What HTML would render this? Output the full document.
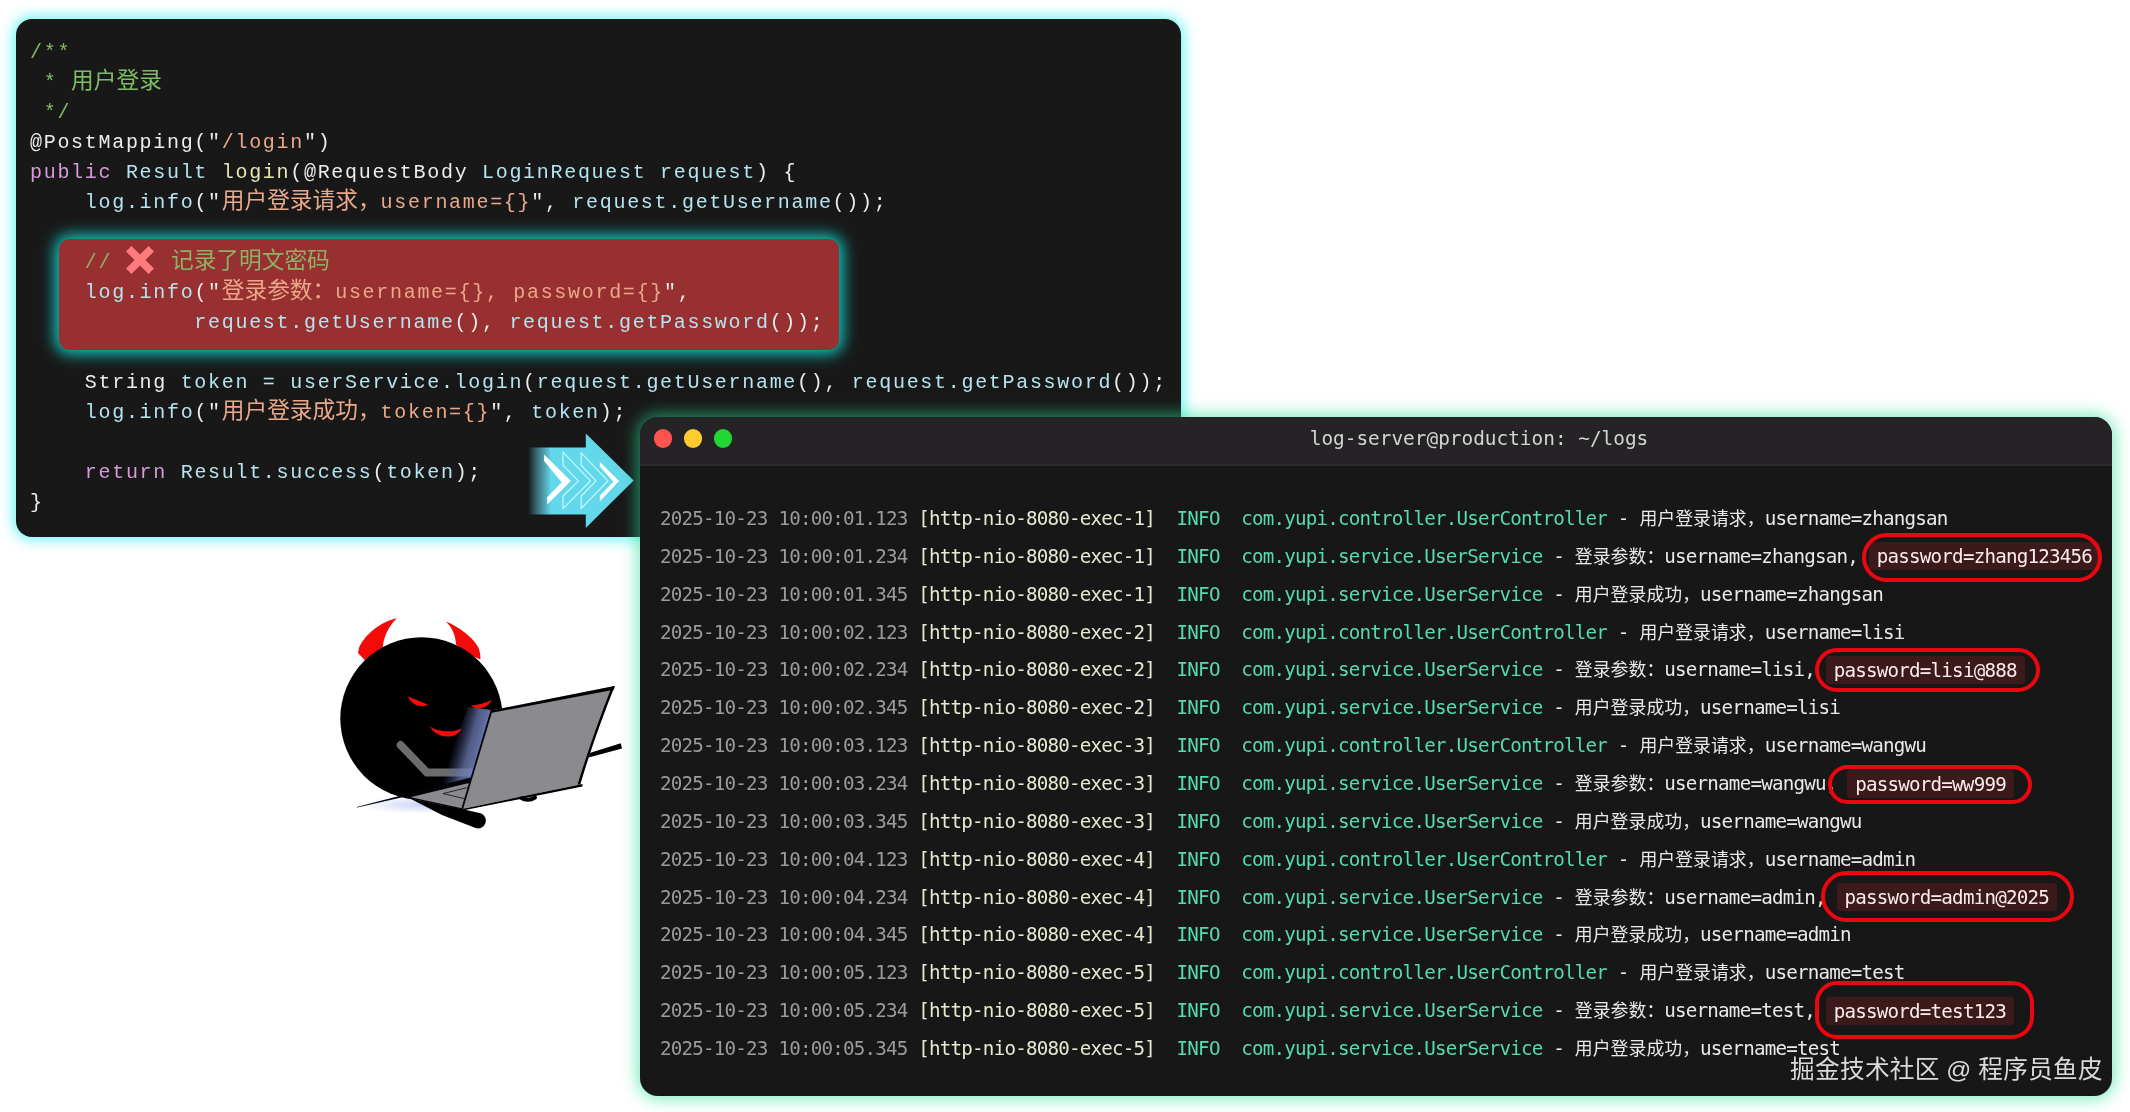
<!DOCTYPE html>
<html lang="zh-CN">
<head>
<meta charset="utf-8">
<title>明文密码日志</title>
<style>
html,body{margin:0;padding:0;background:#fff;}
body{width:2130px;height:1112px;position:relative;overflow:hidden;}
/* ---------- code panel ---------- */
#code{position:absolute;left:16px;top:19px;width:1165px;height:518px;background:#181818;border-radius:16px;
  box-shadow:0 0 13px 3px rgba(36,240,236,.66);}
#code .l{position:relative;height:30px;line-height:30px;white-space:pre;
  font-family:"Liberation Mono","Noto Sans CJK SC",monospace;font-size:20px;letter-spacing:1.695px;}
#codein{position:absolute;left:14.2px;top:19.4px;will-change:transform;}
#code .z{font-family:"Liberation Mono","Noto Sans CJK SC",monospace;font-size:22.7px;letter-spacing:0;line-height:0;}
.g{color:#7fbc64;}
.gr{color:#8fb065;}
.w{color:#ececec;}
.s{color:#eaa88a;}
.k{color:#d89ad8;}
.c{color:#b4e4ee;}
.f{color:#e6e6b4;}
#red{position:absolute;left:43px;top:220px;width:780px;height:111px;background:#982f30;border-radius:11px;
  box-shadow:0 0 15px 3.5px rgba(16,215,205,.95);}
.xm{display:inline-block;vertical-align:middle;margin:-6px 3.4px 0 0;}
/* ---------- terminal ---------- */
#term{position:absolute;left:639.5px;top:417px;width:1472px;height:679px;background:#171717;border-radius:18px;
  box-shadow:0 0 16px 3px rgba(40,225,150,.6);}
#bar{position:absolute;left:0;top:0;right:0;height:49px;background:#252326;border-radius:18px 18px 0 0;border-bottom:2px solid #2b2b2b;box-sizing:border-box;}
.dot{position:absolute;top:12px;width:18.6px;height:18.6px;border-radius:50%;}
#ttl{position:absolute;left:0;right:0;top:0;height:44px;line-height:44px;text-align:center;color:#d4d4d4;
  font-family:"DejaVu Sans Mono","Liberation Mono",monospace;font-size:19.4px;padding-left:206px;will-change:transform;}
#rows{position:absolute;left:20.5px;top:83px;will-change:transform;}
.r{height:37.86px;line-height:37.86px;white-space:pre;font-family:"DejaVu Sans Mono","Liberation Mono","Noto Sans CJK SC",monospace;
  font-size:19.2px;letter-spacing:-0.79px;color:#e8e8e8;}
.t{color:#9b9b9b;}
.h{color:#e8e8d2;}
.i{color:#56dab0;}
.m{color:#e9e9e9;}
.y{font-family:"Liberation Mono","Noto Sans CJK SC",monospace;font-size:17.9px;letter-spacing:0;line-height:0;}
.p{background:#3c1a1b;padding:2.5px 8px;border-radius:3px;color:#fbecec;}
.o{position:absolute;border:4px solid #ec0610;box-sizing:border-box;border-radius:30px;}
#wm{will-change:transform;position:absolute;left:1789.7px;top:1052.3px;font-family:"Liberation Sans","Noto Sans CJK SC",sans-serif;font-size:24.65px;word-spacing:-0.6px;letter-spacing:0.32px;line-height:36px;color:#dadada;white-space:pre;}
</style>
</head>
<body>

<div id="code">
<div id="red"></div>
<div id="codein">
<div class="l"><span class="g">/**</span></div>
<div class="l"><span class="g"> * </span><span class="g"><span class="z">用户登录</span></span></div>
<div class="l"><span class="g"> */</span></div>
<div class="l"><span class="w">@PostMapping("</span><span class="s">/login</span><span class="w">")</span></div>
<div class="l"><span class="k">public</span><span class="c"> Result </span><span class="f">login</span><span class="w">(@RequestBody </span><span class="c">LoginRequest request</span><span class="w">) {</span></div>
<div class="l"><span class="c">    log.info</span><span class="w">("</span><span class="s"><span class="z">用户登录请求，</span>username={}</span><span class="w">", </span><span class="c">request.getUsername</span><span class="w">());</span></div>
<div class="l"></div>
<div class="l"><span class="gr">    // </span><svg class="xm" viewBox="0 0 28 28" width="28" height="28"><path d="M0 5.4 L5.4 0 L14 8.6 L22.6 0 L28 5.4 L19.4 14 L28 22.6 L22.6 28 L14 19.4 L5.4 28 L0 22.6 L8.6 14 Z" fill="#ff7b7e"/></svg><span class="gr"> <span class="z">记录了明文密码</span></span></div>
<div class="l"><span class="c">    log.info</span><span class="w">("</span><span class="s"><span class="z">登录参数：</span>username={}, password={}</span><span class="w">",</span></div>
<div class="l"><span class="c">            request.getUsername</span><span class="w">(), </span><span class="c">request.getPassword</span><span class="w">());</span></div>
<div class="l"></div>
<div class="l"><span class="w">    String </span><span class="c">token = userService.login</span><span class="w">(</span><span class="c">request.getUsername</span><span class="w">(), </span><span class="c">request.getPassword</span><span class="w">());</span></div>
<div class="l"><span class="c">    log.info</span><span class="w">("</span><span class="s"><span class="z">用户登录成功，</span>token={}</span><span class="w">", </span><span class="c">token</span><span class="w">);</span></div>
<div class="l"></div>
<div class="l"><span class="k">    return</span><span class="c"> Result.success</span><span class="w">(</span><span class="c">token</span><span class="w">);</span></div>
<div class="l"><span class="w">}</span></div>
</div>
</div>

<!-- arrow -->
<svg style="position:absolute;left:520px;top:425px" width="120" height="110" viewBox="520 425 120 110">
  <defs>
    <linearGradient id="ag" x1="528" y1="0" x2="551" y2="0" gradientUnits="userSpaceOnUse">
      <stop offset="0" stop-color="#63d6ea" stop-opacity="0"/>
      <stop offset="0.45" stop-color="#5cc4dc" stop-opacity=".55"/>
      <stop offset="1" stop-color="#63d8ea" stop-opacity="1"/>
    </linearGradient>
  </defs>
  <path d="M528 447.6 H585.8 V433.4 L633.6 480.6 L585.8 527.9 V514.5 H528 Z" fill="url(#ag)"/>
  <path d="M544.1 454.4 L570.9 480.9 L547.2 504.5 L547.2 497.3 L561.7 482.2 L544.1 461.1 Z" fill="#fff"/>
  <path d="M563 452.2 L590.4 480.9 L563 508.6 V496 L578.4 480.9 L563 465.2 Z" fill="none" stroke="#c4faff" stroke-width="1.2"/>
  <path d="M581.2 452.9 L608 480.9 L581.2 508.3 V496 L596 480.9 L581.2 465.2 Z" fill="none" stroke="#c4faff" stroke-width="1.2"/>
  <path d="M599.8 461.7 L619 480.9 L599.8 501.4 L599.8 495.4 L613.4 481.8 L599.8 466.4 Z" fill="#fff"/>
</svg>

<!-- devil -->
<svg style="position:absolute;left:300px;top:580px" width="360" height="280" viewBox="300 580 360 280">
  <defs>
    <linearGradient id="gl" x1="490" y1="722" x2="461" y2="714" gradientUnits="userSpaceOnUse">
      <stop offset="0" stop-color="#7686c2" stop-opacity=".9"/>
      <stop offset=".45" stop-color="#6a78b0" stop-opacity=".75"/>
      <stop offset="1" stop-color="#4a5590" stop-opacity="0"/>
    </linearGradient>
    <radialGradient id="hz" cx="420" cy="805" r="60" gradientUnits="userSpaceOnUse" gradientTransform="translate(0 684) scale(1 .15)">
      <stop offset="0" stop-color="#8f9ff0" stop-opacity=".45"/>
      <stop offset="1" stop-color="#8f9ff0" stop-opacity="0"/>
    </radialGradient>
  </defs>
  <!-- haze under laptop -->
  <ellipse cx="420" cy="804.5" rx="62" ry="9" fill="url(#hz)"/>
  <!-- horns -->
  <path d="M396.7 618.3 C384 621 366 632 359 647.8 L358 653 L365.2 660.6 L383 647 C383 638 389 626 396.7 618.3 Z" fill="#f50a0a"/>
  <path d="M445.8 621.4 C458 626 474 638 478.5 647.8 C480 652 480.6 656 480.4 659.4 L470 655 L455.9 644.5 C456 636 452 627 445.8 621.4 Z" fill="#f50a0a"/>
  <!-- head -->
  <circle cx="421.5" cy="718.5" r="81.2" fill="#000"/>
  <!-- leg -->
  <path d="M410 798.5 L464 809.6 L480.6 813.2 A7.6 7.6 0 0 1 475.6 828 L442 815 Z" fill="#000"/>
  <!-- eyes + mouth -->
  <path d="M408 696.3 C414 699 422 702.5 428.2 704.5 C422 708.5 412 706 408 696.3 Z" fill="#f50a0a"/>
  <path d="M491.7 700.1 C486 703 478 705 471 705.7 C476 710.5 487 709.5 491.7 700.1 Z" fill="#f50a0a"/>
  <path d="M430.1 726.5 C437 732 453 733 461.5 728.4 C458 739 437 740 430.1 726.5 Z" fill="#f50a0a"/>
  <!-- arm -->
  <path d="M400.6 745 L427 772.5 L472 772.5" fill="none" stroke="#6c6c6c" stroke-width="7.8" stroke-linecap="round" stroke-linejoin="miter"/>
  <!-- glow from screen -->
  <path d="M491 710 L462.5 808 L432 801 L468 707 Z" fill="url(#gl)"/>
  <!-- table stick -->
  <path d="M356.8 806.9 L470.6 777.6 L471.4 781.6 L357.4 807.6 Z" fill="#02040a"/>
  <path d="M588 753.5 L620.8 743.2 L622 748.6 L588.6 757.5 Z" fill="#000"/>
  <!-- laptop base -->
  <path d="M407.3 797.3 L467.6 782.4 L484 786 L461.7 809.1 Z" fill="#8b8b8e" stroke="#05070d" stroke-width="1.5" stroke-linejoin="round"/>
  <path d="M443 793.6 L469 787.2 M443 793.6 L466 799" fill="none" stroke="#1a1a20" stroke-width="0.9"/>
  <path d="M520.5 797.5 Q528 802 535 797.5" stroke="#000" stroke-width="4" stroke-linecap="round" fill="none"/>
  <!-- laptop screen -->
  <path d="M491.7 710.3 L614.7 686.1 Q594 738 580.2 784.4 L462.2 808.8 Z" fill="#8b8b8f"/>
  <path d="M462.2 808.8 L491.7 710.3" stroke="#05070f" stroke-width="1.8" fill="none"/>
  <path d="M490.9 710.6 L614.7 686.1 L613.9 689.8 L491.8 712.7 Z" fill="#000"/>
  <path d="M614.7 686.1 Q594 738 580.2 784.4 L577.6 784.6 Q592 737 611.6 687.2 Z" fill="#000"/>
  <path d="M461.8 808.9 L580.2 784.4 L582.6 784 L582.4 786.6 L462.6 810.6 Z" fill="#000"/>
</svg>

<div id="term">
  <div id="bar">
    <div class="dot" style="left:14.2px;background:#ff5550"></div>
    <div class="dot" style="left:44.2px;background:#ffcb2f"></div>
    <div class="dot" style="left:74.2px;background:#22d636"></div>
    <div id="ttl">log-server@production: ~/logs</div>
  </div>
  <div id="rows">
<div class="r"><span class="t">2025-10-23 10:00:01.123</span> <span class="h">[http-nio-8080-exec-1]</span>  <span class="i">INFO</span>  <span class="i">com.yupi.controller.UserController</span> <span class="m">- <span class="y">用户登录请求，</span>username=zhangsan</span></div>
<div class="r"><span class="t">2025-10-23 10:00:01.234</span> <span class="h">[http-nio-8080-exec-1]</span>  <span class="i">INFO</span>  <span class="i">com.yupi.service.UserService</span> <span class="m">- <span class="y">登录参数：</span>username=zhangsan, <span class="p">password=zhang123456</span></span></div>
<div class="r"><span class="t">2025-10-23 10:00:01.345</span> <span class="h">[http-nio-8080-exec-1]</span>  <span class="i">INFO</span>  <span class="i">com.yupi.service.UserService</span> <span class="m">- <span class="y">用户登录成功，</span>username=zhangsan</span></div>
<div class="r"><span class="t">2025-10-23 10:00:02.123</span> <span class="h">[http-nio-8080-exec-2]</span>  <span class="i">INFO</span>  <span class="i">com.yupi.controller.UserController</span> <span class="m">- <span class="y">用户登录请求，</span>username=lisi</span></div>
<div class="r"><span class="t">2025-10-23 10:00:02.234</span> <span class="h">[http-nio-8080-exec-2]</span>  <span class="i">INFO</span>  <span class="i">com.yupi.service.UserService</span> <span class="m">- <span class="y">登录参数：</span>username=lisi, <span class="p">password=lisi@888</span></span></div>
<div class="r"><span class="t">2025-10-23 10:00:02.345</span> <span class="h">[http-nio-8080-exec-2]</span>  <span class="i">INFO</span>  <span class="i">com.yupi.service.UserService</span> <span class="m">- <span class="y">用户登录成功，</span>username=lisi</span></div>
<div class="r"><span class="t">2025-10-23 10:00:03.123</span> <span class="h">[http-nio-8080-exec-3]</span>  <span class="i">INFO</span>  <span class="i">com.yupi.controller.UserController</span> <span class="m">- <span class="y">用户登录请求，</span>username=wangwu</span></div>
<div class="r"><span class="t">2025-10-23 10:00:03.234</span> <span class="h">[http-nio-8080-exec-3]</span>  <span class="i">INFO</span>  <span class="i">com.yupi.service.UserService</span> <span class="m">- <span class="y">登录参数：</span>username=wangwu, <span class="p">password=ww999</span></span></div>
<div class="r"><span class="t">2025-10-23 10:00:03.345</span> <span class="h">[http-nio-8080-exec-3]</span>  <span class="i">INFO</span>  <span class="i">com.yupi.service.UserService</span> <span class="m">- <span class="y">用户登录成功，</span>username=wangwu</span></div>
<div class="r"><span class="t">2025-10-23 10:00:04.123</span> <span class="h">[http-nio-8080-exec-4]</span>  <span class="i">INFO</span>  <span class="i">com.yupi.controller.UserController</span> <span class="m">- <span class="y">用户登录请求，</span>username=admin</span></div>
<div class="r"><span class="t">2025-10-23 10:00:04.234</span> <span class="h">[http-nio-8080-exec-4]</span>  <span class="i">INFO</span>  <span class="i">com.yupi.service.UserService</span> <span class="m">- <span class="y">登录参数：</span>username=admin, <span class="p">password=admin@2025</span></span></div>
<div class="r"><span class="t">2025-10-23 10:00:04.345</span> <span class="h">[http-nio-8080-exec-4]</span>  <span class="i">INFO</span>  <span class="i">com.yupi.service.UserService</span> <span class="m">- <span class="y">用户登录成功，</span>username=admin</span></div>
<div class="r"><span class="t">2025-10-23 10:00:05.123</span> <span class="h">[http-nio-8080-exec-5]</span>  <span class="i">INFO</span>  <span class="i">com.yupi.controller.UserController</span> <span class="m">- <span class="y">用户登录请求，</span>username=test</span></div>
<div class="r"><span class="t">2025-10-23 10:00:05.234</span> <span class="h">[http-nio-8080-exec-5]</span>  <span class="i">INFO</span>  <span class="i">com.yupi.service.UserService</span> <span class="m">- <span class="y">登录参数：</span>username=test, <span class="p">password=test123</span></span></div>
<div class="r"><span class="t">2025-10-23 10:00:05.345</span> <span class="h">[http-nio-8080-exec-5]</span>  <span class="i">INFO</span>  <span class="i">com.yupi.service.UserService</span> <span class="m">- <span class="y">用户登录成功，</span>username=test</span></div>
  </div>
</div>

<div class="o" style="left:1861.7px;top:532.8px;width:240px;height:48.8px"></div>
<div class="o" style="left:1815px;top:648.2px;width:225.4px;height:43.5px"></div>
<div class="o" style="left:1827.6px;top:764.8px;width:204.6px;height:39.4px"></div>
<div class="o" style="left:1820.7px;top:870.8px;width:253.4px;height:50.9px"></div>
<div class="o" style="left:1815px;top:981.3px;width:218.9px;height:57.5px;border-radius:22px"></div>

<div id="wm">掘金技术社区 @ 程序员鱼皮</div>

</body>
</html>
